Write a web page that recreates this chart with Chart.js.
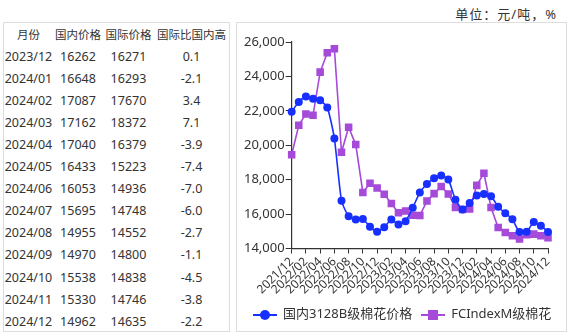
<!DOCTYPE html>
<html>
<head>
<meta charset="utf-8">
<script src="https://cdn.jsdelivr.net/npm/chart.js@4.4.1/dist/chart.umd.min.js"></script>
<style>
  body { margin: 0; background: #fff; font-family: "Noto Sans", "Noto Sans CJK SC", sans-serif; color: #333; }
  #wrap { position: relative; width: 571px; height: 336px; overflow: hidden; }
  #unit { position: absolute; right: 14px; top: 4px; font-size: 13px; color: #333; letter-spacing: 1px; }
  #tablePanel { position: absolute; left: 3px; top: 22px; width: 225px; height: 308px; border: 1px solid #ddd; }
  #tablePanel table { border-collapse: collapse; font-size: 12.5px; margin-top: 0; }
  #tablePanel td { padding: 0; height: 22.1px; text-align: center; white-space: nowrap; }
  #tablePanel tr.cab td { font-size: 11.5px; }
  #chartPanel { position: absolute; left: 236px; top: 22px; width: 329px; height: 308px; border: 1px solid #ddd; }
  #chartBox { position: absolute; left: 0; top: 0; }
  #legend { position: absolute; left: 16px; top: 279px; font-size: 13px; white-space: nowrap; }
  .item { display: inline-block; vertical-align: middle; margin-right: 9px; }
  .sym { display: inline-block; position: relative; width: 24px; height: 12px; vertical-align: middle; margin-right: 6px; }
  .sym .ln { position: absolute; left: 0; right: 0; top: 5px; height: 2px; }
  .sym .mk { position: absolute; left: 7px; top: 1px; width: 10px; height: 10px; }
</style>
</head>
<body>
<div id="wrap">
  <div id="unit">单位：元/吨，%</div>
  <div id="tablePanel"><table id="tbl"></table></div>
  <div id="chartPanel">
    <div id="chartBox"><canvas id="grafico" width="329" height="282"></canvas></div>
    <div id="legend"></div>
  </div>
</div>
<script>
// meses 2021/12 - 2024/12
var meses = [
  "2021/12","2022/01","2022/02","2022/03","2022/04","2022/05","2022/06","2022/07","2022/08","2022/09","2022/10","2022/11",
  "2022/12","2023/01","2023/02","2023/03","2023/04","2023/05","2023/06","2023/07","2023/08","2023/09","2023/10","2023/11",
  "2023/12","2024/01","2024/02","2024/03","2024/04","2024/05","2024/06","2024/07","2024/08","2024/09","2024/10","2024/11","2024/12"
];
var nombreNacional = "国内3128B级棉花价格";
var nombreInternacional = "FCIndexM级棉花";
var precioNacional = [
  21950, 22510, 22840, 22700, 22610, 22200, 20390, 16780, 15880, 15690, 15710, 15260,
  14970, 15240, 15690, 15390, 15590, 16370, 17250, 17750, 18080, 18240, 18010, 16840,
  16262, 16648, 17087, 17162, 17040, 16433, 16053, 15695, 14955, 14970, 15538, 15330, 14962
];
var precioInternacional = [
  19450, 21160, 21820, 21750, 24250, 25370, 25610, 19590, 21050, 20040, 17260, 17790,
  17520, 17150, 16620, 16080, 16180, 15940, 15920, 16760, 17190, 17610, 17170, 16390,
  16271, 16293, 17670, 18372, 16379, 15223, 14936, 14748, 14552, 14800, 14838, 14746, 14635
];
// tabla: ultimos 13 meses
var encabezados = ["月份", "国内价格", "国际价格", "国际比国内高"];
var diferencia = [0.1, -2.1, 3.4, 7.1, -3.9, -7.4, -7.0, -6.0, -2.7, -1.1, -4.5, -3.8, -2.2];
var ejeY = { min: 14000, max: 26000, paso: 2000 };

var colorAzul = "#1730ff";
var colorMorado = "#a64ad9";

// armar la tabla
var anchos = [49, 50, 51, 75];
var tbl = document.getElementById('tbl');
var html = '<tr class="cab">' + encabezados.map(function(h, i) {
  return '<td style="width:' + anchos[i] + 'px">' + h + '</td>';
}).join('') + '</tr>';
var inicio = meses.length - diferencia.length;
diferencia.forEach(function(d, k) {
  var i = inicio + k;
  html += '<tr><td>' + meses[i] + '</td><td>' + precioNacional[i] + '</td><td>' +
          precioInternacional[i] + '</td><td>' + d.toFixed(1) + '</td></tr>';
});
tbl.innerHTML = html;

// leyenda en html (linea + marcador)
document.getElementById('legend').innerHTML =
  '<span class="item"><span class="sym"><span class="ln" style="background:' + colorAzul + '"></span>' +
  '<span class="mk" style="background:' + colorAzul + ';border-radius:50%"></span></span>' + nombreNacional + '</span>' +
  '<span class="item" style="margin-right:0"><span class="sym"><span class="ln" style="background:' + colorMorado + '"></span>' +
  '<span class="mk" style="background:' + colorMorado + '"></span></span>' + nombreInternacional + '</span>';

var fuente = { family: '"Noto Sans", "Noto Sans CJK SC", sans-serif', size: 13 };
var fuenteX = { family: '"Noto Sans", "Noto Sans CJK SC", sans-serif', size: 12 };

var ctx = document.getElementById('grafico');
var miGrafico = new Chart(ctx, {
  type: 'line',
  data: {
    labels: meses,
    datasets: [{
      label: nombreNacional,
      data: precioNacional,
      borderColor: colorAzul,
      backgroundColor: colorAzul,
      borderWidth: 1.6,
      pointStyle: 'circle',
      pointRadius: 3.2,
      tension: 0.2
    }, {
      label: nombreInternacional,
      data: precioInternacional,
      borderColor: colorMorado,
      backgroundColor: colorMorado,
      borderWidth: 1.6,
      pointStyle: 'rect',
      pointRadius: 4.2,
      tension: 0
    }]
  },
  options: {
    responsive: false,
    animation: false,
    devicePixelRatio: 1,
    layout: { padding: { top: 19, right: 18, left: 6, bottom: 7 } },
    plugins: { legend: { display: false }, tooltip: { enabled: false } },
    scales: {
      x: {
        type: 'category',
        offset: false,
        border: { color: '#333', width: 1.2 },
        grid: { display: true, drawOnChartArea: false, drawTicks: true, tickLength: 5, color: '#333' },
        ticks: {
          autoSkip: false, maxRotation: 45, minRotation: 45, padding: 1,
          color: '#333', font: fuenteX,
          callback: function(v, i) { return i % 2 === 0 ? meses[i] : null; }
        }
      },
      y: {
        min: ejeY.min, max: ejeY.max,
        border: { color: '#333', width: 1.2 },
        grid: { display: true, drawOnChartArea: false, drawTicks: true, tickLength: 6, color: '#333' },
        ticks: {
          stepSize: ejeY.paso, padding: 1, color: '#333', font: fuente,
          callback: function(v) { return v.toLocaleString('en-US'); }
        }
      }
    }
  }
});
</script>
</body>
</html>
